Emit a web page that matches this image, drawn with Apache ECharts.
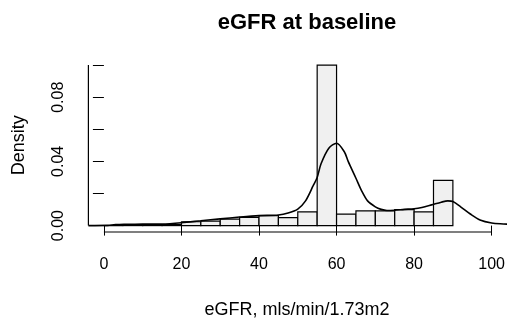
<!DOCTYPE html>
<html>
<head>
<meta charset="utf-8">
<script src="https://cdn.jsdelivr.net/npm/echarts@6/dist/echarts.min.js"></script>
<style>
html,body{margin:0;padding:0;background:#fff;}
#chart{width:508px;height:324px;}
</style>
</head>
<body>
<div id="chart"></div>
<script>
// Histogram bin edges and densities
var breaks = [0,5,10,15,20,25,30,35,40,45,50,55,60,65,70,75,80,85,90];
var densities = [0,0.0006,0.0006,0.0006,0.0024,0.0028,0.0040,0.0051,0.0062,0.0050,0.0085,0.1000,0.0072,0.0092,0.0092,0.0100,0.0085,0.0282];
// Kernel density curve
var densX = [-4,1,3,4,6,10,15,20,25,30,35,40,45,47.5,50,52,54,55,56,58,60,62,63,65,66.5,68,70,71.5,73,75,77.5,80,82,84.5,87,88.7,90,92,94.5,97,100,103,104];
var densY = [0,0.0001,0.0007,0.0007,0.0008,0.0009,0.0010,0.0018,0.0030,0.0042,0.0053,0.0062,0.0066,0.0078,0.0103,0.0154,0.0250,0.0300,0.0385,0.0482,0.0513,0.0460,0.0400,0.0295,0.0215,0.0154,0.0117,0.0101,0.0094,0.0096,0.0101,0.0105,0.0113,0.0129,0.0146,0.0154,0.0150,0.0117,0.0072,0.0035,0.0016,0.0010,0.0009];
// Axis ticks and labels
var xTicks = [0,20,40,60,80,100];
var yTicks = [0,0.02,0.04,0.06,0.08,0.10];
var yLabels = [0,0.04,0.08];
var xRange = [-4,103.6];
var yRange = [-0.004,0.104];
var titleText = 'eGFR at baseline';
var xTitle = 'eGFR, mls/min/1.73m2';
var yTitle = 'Density';

var barData = densities.map(function(d,i){ return [breaks[i], breaks[i+1], d]; });
var curveData = densX.map(function(x,i){ return [x, densY[i]]; });
var font = "'Liberation Sans', Arial, sans-serif";

var chart = echarts.init(document.getElementById('chart'), null, {renderer:'canvas'});
chart.setOption({
  animation:false,
  backgroundColor:'#ffffff',
  title:{
    text:titleText, left:302, top:7, textAlign:'center',
    textStyle:{fontFamily:font, fontSize:22, fontWeight:'bold', color:'#000'}
  },
  grid:{left:88.4, top:58.7, right:0, height:175.5, containLabel:false},
  xAxis:{
    type:'value', min:xRange[0], max:xRange[1],
    splitLine:{show:false},
    axisLine:{show:false},
    axisTick:{show:true, customValues:xTicks, length:10, lineStyle:{color:'#000', width:1}},
    axisLabel:{customValues:xTicks, margin:25, fontFamily:font, fontSize:16, color:'#000'},
    name:xTitle, nameLocation:'middle', nameGap:69,
    nameTextStyle:{fontFamily:font, fontSize:18, color:'#000'}
  },
  yAxis:{
    type:'value', min:yRange[0], max:yRange[1],
    splitLine:{show:false},
    axisLine:{show:false},
    axisTick:{show:true, customValues:yTicks, length:11, lineStyle:{color:'#000', width:1}},
    axisLabel:{customValues:yLabels, rotate:90, margin:22, fontFamily:font, fontSize:16, color:'#000',
      formatter:function(v){ return v.toFixed(2); }},
    name:yTitle, nameLocation:'middle', nameGap:60, nameRotate:90,
    nameTextStyle:{fontFamily:font, fontSize:18, color:'#000'}
  },
  series:[
    {
      type:'custom',
      data:barData,
      renderItem:function(params, api){
        var p0 = api.coord([api.value(0), 0]);
        var p1 = api.coord([api.value(1), api.value(2)]);
        return {
          type:'rect',
          shape:{x:p0[0], y:p1[1], width:p1[0]-p0[0], height:p0[1]-p1[1]},
          style:{fill:'#f0f0f0', stroke:'#000', lineWidth:1.2}
        };
      },
      encode:{x:[0,1], y:2},
      z:2
    },
    {
      type:'line', data:curveData, smooth:0.3, showSymbol:false, symbol:'none',
      lineStyle:{color:'#000', width:1.6}, z:3
    },
    {
      type:'line', data:[[xTicks[0], yRange[0]],[xTicks[xTicks.length-1], yRange[0]]],
      showSymbol:false, symbol:'none', clip:false,
      lineStyle:{color:'#000', width:1.2}, z:4
    },
    {
      type:'line', data:[[xRange[0], yTicks[0]],[xRange[0], yTicks[yTicks.length-1]]],
      showSymbol:false, symbol:'none', clip:false,
      lineStyle:{color:'#000', width:1.2}, z:4
    }
  ]
});
</script>
</body>
</html>
